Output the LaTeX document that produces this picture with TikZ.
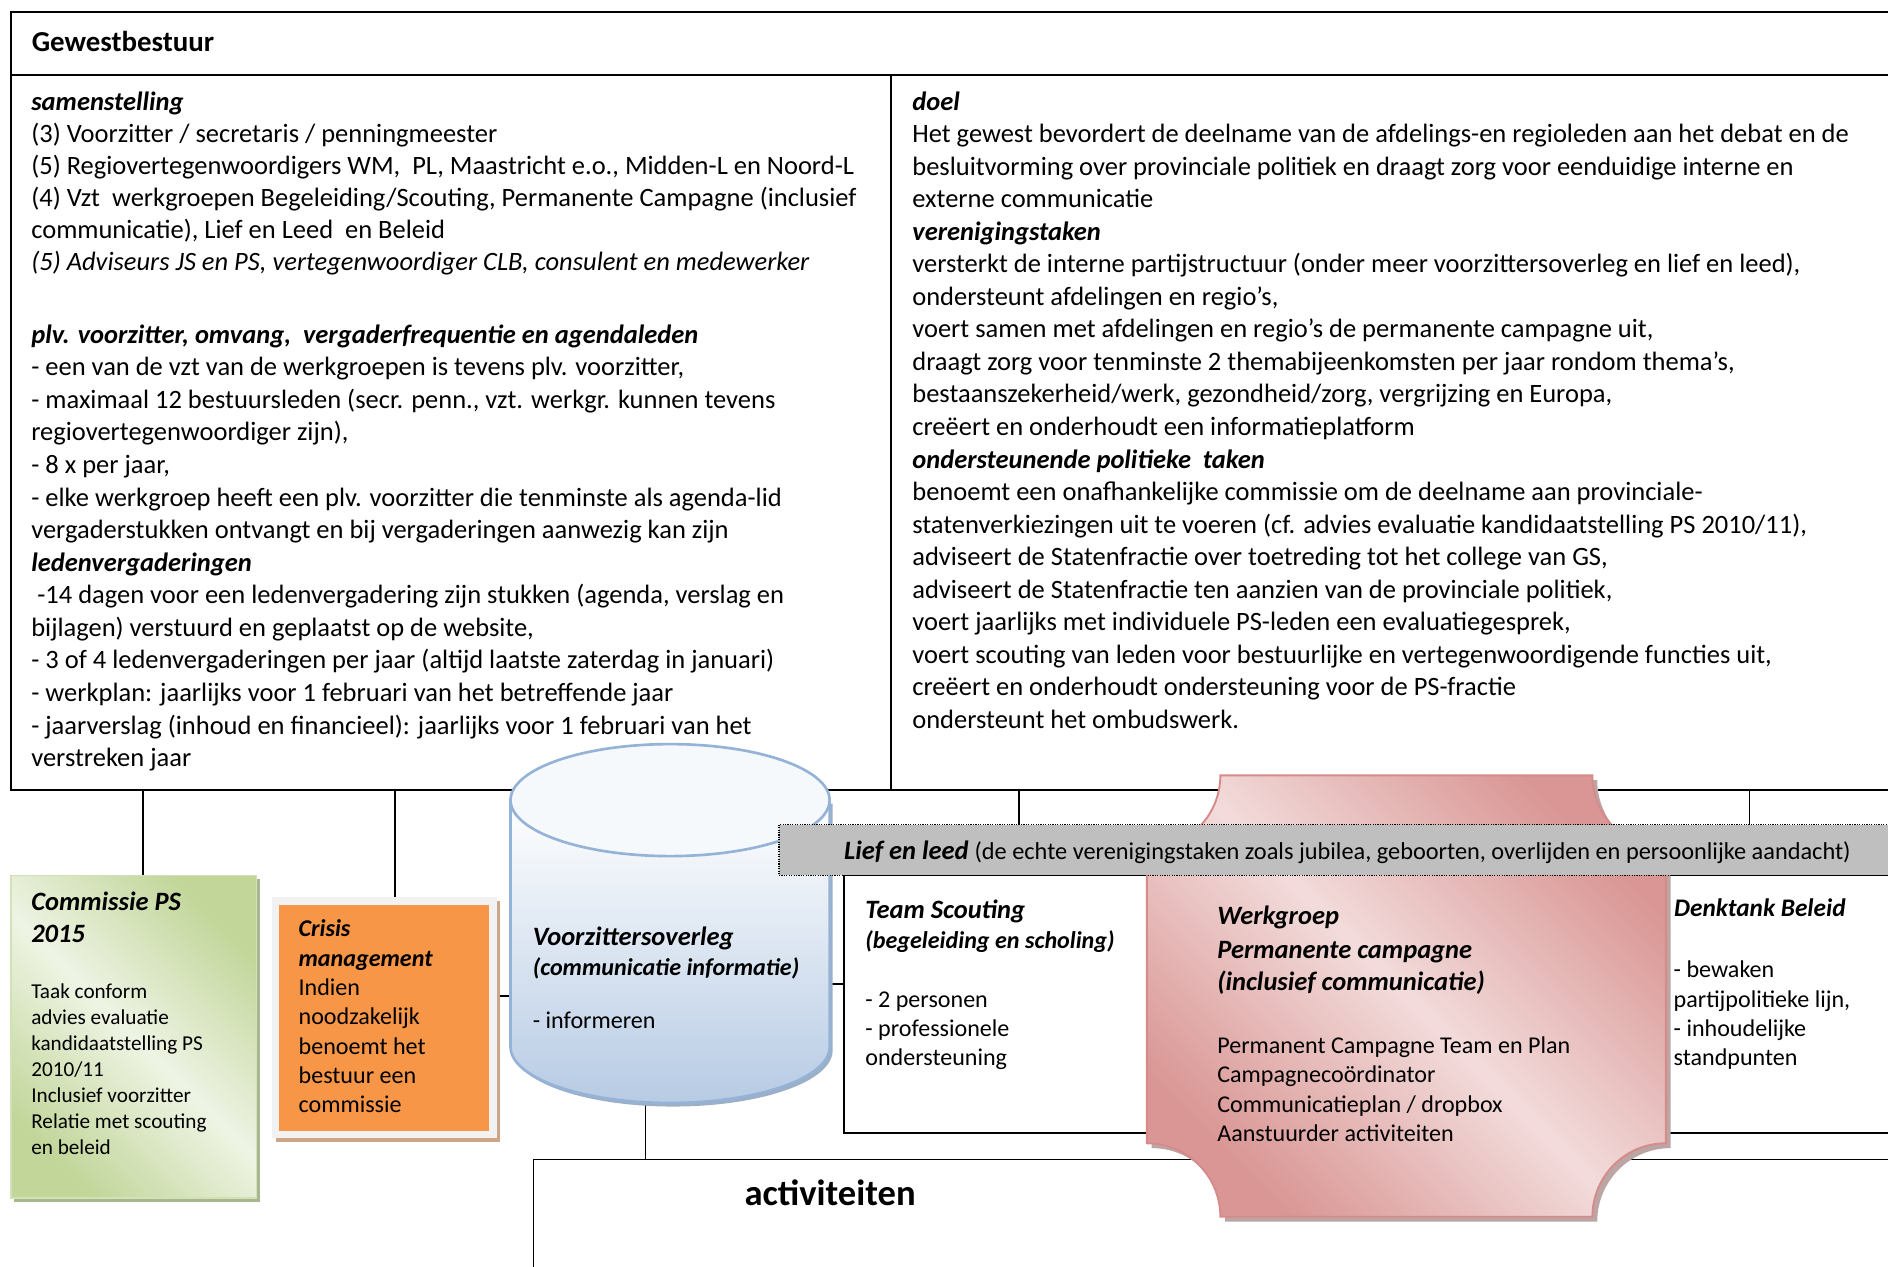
\documentclass[tikz,border=0pt]{standalone}
\usepackage{fontspec}
\setmainfont{Carlito}
\usetikzlibrary{shadows}
\definecolor{cylb}{HTML}{B7CBE4}
\definecolor{cyltop}{HTML}{F6F9FC}
\definecolor{cylline}{HTML}{95B3D7}
\definecolor{cylshad}{HTML}{9DAFC6}
\definecolor{grd}{HTML}{C2D69A}
\definecolor{grl}{HTML}{EEF4E4}
\definecolor{grline}{HTML}{D3E1B8}
\definecolor{grshad}{HTML}{A9B78D}
\definecolor{orng}{HTML}{F79646}
\definecolor{frmgray}{HTML}{F2F2F2}
\definecolor{shadtan}{HTML}{CDA688}
\definecolor{pinkd}{HTML}{D99694}
\definecolor{pinkl}{HTML}{F2DCDB}
\definecolor{pinkline}{HTML}{D68B8A}
\definecolor{pinkshad}{HTML}{BCA5A5}
\definecolor{barg}{HTML}{BFBFBF}
\tikzset{
  frameline/.style={line width=0.8pt, black},
  boxline/.style={line width=0.7pt, black},
  conn/.style={line width=0.7pt, black},
  t11/.style={anchor=base west, inner sep=0pt, outer sep=0pt, font=\fontsize{11}{13}\selectfont},
  t10/.style={anchor=base west, inner sep=0pt, outer sep=0pt, font=\fontsize{10}{12}\selectfont},
  t9/.style={anchor=base west, inner sep=0pt, outer sep=0pt, font=\fontsize{8.8}{10.5}\selectfont},
}
\newcommand{\bi}[1]{\textbf{\textit{#1}}}
\begin{document}
\begin{tikzpicture}[x=0.5pt,y=-0.5pt]
\useasboundingbox (0,0) rectangle (1568,1052);
\fill[white] (0,0) rectangle (1568,1052);
\clip (0,0) rectangle (1568,1052);

% ---------- main frame ----------
\draw[frameline] (9,10) rectangle (1640,656);
\draw[frameline] (9,62) -- (1640,62);
\draw[frameline] (740,62) -- (740,656);
\node[anchor=base west, inner sep=0pt, font=\fontsize{12}{14}\selectfont\bfseries] (title) at (26,43) {Gewestbestuur};

% left column
\foreach \s [count=\i from 0] in {
 {\bi{samenstelling}},
 {(3) Voorzitter / secretaris / penningmeester},
 {(5) Regiovertegenwoordigers WM,\ \ PL, Maastricht e.o., Midden-L en Noord-L},
 {(4) Vzt\ \ werkgroepen Begeleiding/Scouting, Permanente Campagne (inclusief},
 {communicatie), Lief en Leed\ \ en Beleid},
 {\textit{(5) Adviseurs JS en PS, vertegenwoordiger CLB, consulent en medewerker}}
}{\node[t11] (la\i) at (26,{91.4+26.7*\i}) {\s};}

\foreach \s [count=\i from 0] in {
 {\bi{plv. voorzitter, omvang,\ \ vergaderfrequentie en agendaleden}},
 {- een van de vzt van de werkgroepen is tevens plv. voorzitter,},
 {- maximaal 12 bestuursleden (secr. penn., vzt. werkgr. kunnen tevens},
 {regiovertegenwoordiger zijn),},
 {- 8 x per jaar,},
 {- elke werkgroep heeft een plv. voorzitter die tenminste als agenda-lid},
 {vergaderstukken ontvangt en bij vergaderingen aanwezig kan zijn},
 {\bi{ledenvergaderingen}},
 {\ -14 dagen voor een ledenvergadering zijn stukken (agenda, verslag en},
 {bijlagen) verstuurd en geplaatst op de website,},
 {- 3 of 4 ledenvergaderingen per jaar (altijd laatste zaterdag in januari)},
 {- werkplan: jaarlijks voor 1 februari van het betreffende jaar},
 {- jaarverslag (inhoud en financieel): jaarlijks voor 1 februari van het},
 {verstreken jaar}
}{\node[t11] (lb\i) at (26,{285+27.05*\i}) {\s};}

% right column
\foreach \s [count=\i from 0] in {
 {\bi{doel}},
 {Het gewest bevordert de deelname van de afdelings-en regioleden aan het debat en de},
 {besluitvorming over provinciale politiek en draagt zorg voor eenduidige interne en},
 {externe communicatie},
 {\bi{verenigingstaken}},
 {versterkt de interne partijstructuur (onder meer voorzittersoverleg en lief en leed),},
 {ondersteunt afdelingen en regio’s,},
 {voert samen met afdelingen en regio’s de permanente campagne uit,},
 {draagt zorg voor tenminste 2 themabijeenkomsten per jaar rondom thema’s,},
 {bestaanszekerheid/werk, gezondheid/zorg, vergrijzing en Europa,},
 {creëert en onderhoudt een informatieplatform},
 {\bi{ondersteunende politieke\ \ taken}},
 {benoemt een onafhankelijke commissie om de deelname aan provinciale-},
 {statenverkiezingen uit te voeren (cf. advies evaluatie kandidaatstelling PS 2010/11),},
 {adviseert de Statenfractie over toetreding tot het college van GS,},
 {adviseert de Statenfractie ten aanzien van de provinciale politiek,},
 {voert jaarlijks met individuele PS-leden een evaluatiegesprek,},
 {voert scouting van leden voor bestuurlijke en vertegenwoordigende functies uit,},
 {creëert en onderhoudt ondersteuning voor de PS-fractie},
 {ondersteunt het ombudswerk.}
}{\node[t11] (r\i) at (757.7,{91.4+27.03*\i}) {\s};}

% ---------- connectors ----------
\coordinate (fc1) at (119,656);
\coordinate (fc2) at (328,656);
\coordinate (fc3) at (846,656);
\coordinate (fc4) at (1453,656);
\coordinate (cpsTop) at (119,727);
\coordinate (crTop) at (328,748);
\coordinate (barTop1) at (846,685);
\coordinate (barTop2) at (1453,685);
\coordinate (crRight) at (409,827);
\coordinate (cylLeft) at (424,827);
\coordinate (cylRight) at (689,817);
\coordinate (tsLeft) at (701,817);
\coordinate (cylBot) at (536,914);
\coordinate (actTop) at (536,963);
\draw[conn] (fc1) -- (cpsTop);
\draw[conn] (fc2) -- (crTop);
\draw[conn] (fc3) -- (barTop1);
\draw[conn] (fc4) -- (barTop2);
\draw[conn] (crRight) -- (cylLeft);
\draw[conn] (cylRight) -- (tsLeft);
\draw[conn] (cylBot) -- (actTop);

% ---------- team scouting / denktank box ----------
\draw[boxline] (701,727) rectangle (1640,941);
% ---------- activiteiten box ----------
\draw[boxline] (443,963) rectangle (1640,1120);
\node[anchor=base west, inner sep=0pt, font=\fontsize{15.2}{18}\selectfont\bfseries] (act) at (618,1001) {activiteiten};

% ---------- Commissie PS ----------
\shadedraw[top color=grd, bottom color=grd, middle color=grl, shading angle=-45,
  draw=grline, line width=0.6pt,
  drop shadow={shadow xshift=1.5pt, shadow yshift=-1.5pt, fill=grshad, opacity=1}]
  (9,727) rectangle (213,995);
\node[t11] (cps1) at (26,756) {\bi{Commissie PS}};
\node[t11] (cps2) at (26,783) {\bi{2015}};
\foreach \s [count=\i from 0] in {
 {Taak conform},{advies evaluatie},{kandidaatstelling PS},{2010/11},
 {Inclusief voorzitter},{Relatie met scouting},{en beleid}
}{\node[t9] (cpb\i) at (26,{829+21.6*\i}) {\s};}

% ---------- Crisis management ----------
\fill[shadtan] (229,748.5) rectangle (415.5,948.5);
\fill[frmgray] (226,745) rectangle (413,945);
\fill[orng] (232,752) rectangle (406,939);
\foreach \s [count=\i from 0] in {
 {\bi{Crisis}},{\bi{management}},{Indien},{noodzakelijk},{benoemt het},{bestuur een},{commissie}
}{\node[t10] (cm\i) at (248,{778+24.35*\i}) {\s};}

% ---------- Cylinder ----------
\fill[cylshad] (426.5,667.5) -- (426.5,872.5) arc[start angle=180, end angle=0, x radius=132.5, y radius=46.5] -- (691.5,667.5) -- cycle;
\shadedraw[top color=white, bottom color=cylb, draw=cylline, line width=1.1pt]
  (424,664.5) -- (424,869.5) arc[start angle=180, end angle=0, x radius=132.5, y radius=46.5] -- (689,664.5) -- cycle;
\filldraw[fill=cyltop, draw=cylline, line width=1.1pt] (556.5,664.5) ellipse [x radius=132.5, y radius=46.5];
\node[t11] (vo1) at (442.5,785) {\bi{Voorzittersoverleg}};
\node[t10] (vo2) at (442.5,810) {\bi{(communicatie informatie)}};
\node[t10] (vo3) at (442.5,854) {- informeren};

% ---------- Team Scouting text ----------
\node[t11] (ts1) at (718.7,762.6) {\bi{Team Scouting}};
\node[t10] (ts2) at (718.7,787.7) {\bi{(begeleiding en scholing)}};
\node[t10] (ts3) at (718.7,836.5) {- 2 personen};
\node[t10] (ts4) at (718.7,860.5) {- professionele};
\node[t10] (ts5) at (718.7,884.5) {ondersteuning};

% ---------- Denktank text ----------
\node[anchor=base west, inner sep=0pt, font=\fontsize{10.5}{12.5}\selectfont] (dt1) at (1390,761.5) {\bi{Denktank Beleid}};
\node[t10] (dt2) at (1390,812) {- bewaken};
\node[t10] (dt3) at (1390,836.5) {partijpolitieke lijn,};
\node[t10] (dt4) at (1390,860.5) {- inhoudelijke};
\node[t10] (dt5) at (1390,884.5) {standpunten};

% ---------- Werkgroep plaque ----------
\shadedraw[top color=pinkd, bottom color=pinkd, middle color=pinkl, shading angle=-45,
  draw=pinkline, line width=0.8pt,
  drop shadow={shadow xshift=2pt, shadow yshift=-2pt, fill=pinkshad, opacity=1}]
  (1013.5,644) -- (1322.5,644)
  .. controls (1322.5,677.7) and (1349.8,705) .. (1383.5,705)
  -- (1383.5,949.5)
  .. controls (1349.8,949.5) and (1322.5,976.8) .. (1322.5,1010.5)
  -- (1013.5,1010.5)
  .. controls (1013.5,976.8) and (986.2,949.5) .. (952.5,949.5)
  -- (952.5,705)
  .. controls (986.2,705) and (1013.5,677.7) .. (1013.5,644) -- cycle;
\node[t11] (wg1) at (1011,768) {\bi{Werkgroep}};
\node[t11] (wg2) at (1011,796) {\bi{Permanente campagne}};
\node[t11] (wg3) at (1011,823) {\bi{(inclusief communicatie)}};
\foreach \s [count=\i from 0] in {
 {Permanent Campagne Team en Plan},{Campagnecoördinator},{Communicatieplan / dropbox},{Aanstuurder activiteiten}
}{\node[t10] (wb\i) at (1011,{875+24.4*\i}) {\s};}

% ---------- Lief en leed bar ----------
\filldraw[fill=barg, draw=black, line width=0.5pt, dash pattern=on 0.5pt off 0.5pt] (647,685) rectangle (1640,727);
\node[t11] (lief) at (701,713.5) {\bi{Lief en leed} {\fontsize{10.1}{12}\selectfont (de echte verenigingstaken zoals jubilea, geboorten, overlijden en persoonlijke aandacht)}};
\end{tikzpicture}
\end{document}
